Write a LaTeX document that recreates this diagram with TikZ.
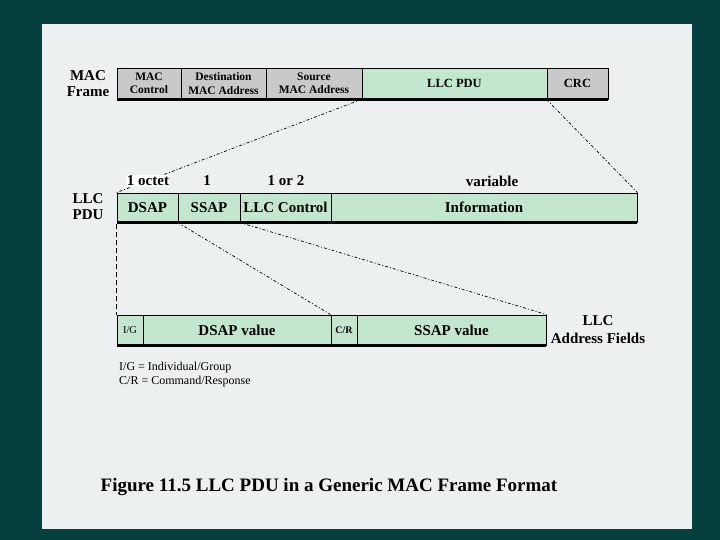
\documentclass[tikz,border=0pt]{standalone}
\usepackage{fontspec}
\setmainfont{Liberation Serif}
\definecolor{bgteal}{HTML}{053F3F}
\definecolor{panel}{HTML}{ECF0F1}
\definecolor{mint}{HTML}{C2E6CE}
\definecolor{cellgray}{HTML}{C9C9C9}
\begin{document}
\begin{tikzpicture}[x=1pt,y=-1pt,
  cell/.style={draw=black, line width=0.9pt, inner sep=0pt, align=center, font=\bfseries},
  green/.style={cell, fill=mint},
  gray/.style={cell, fill=cellgray},
  shadowline/.style={line width=2.6pt},
  dashdot/.style={line width=0.7pt, dash pattern=on 3pt off 2pt on 1pt off 2pt},
  vdash/.style={line width=0.9pt, dash pattern=on 5pt off 3pt},
  lbl/.style={font=\bfseries, align=center, inner sep=1pt},
  macfont/.style={font=\bfseries\fontsize{11.5}{13.5}\selectfont},
  bigfont/.style={font=\bfseries\fontsize{15}{16}\selectfont},
]
\useasboundingbox (0,0) rectangle (720,540);
\fill[bgteal] (0,0) rectangle (720,540);
\fill[panel] (42,24) rectangle (692,529);

% MAC frame
\node[lbl, font=\bfseries\fontsize{15}{16}\selectfont] (maclbl) at (88,84) {MAC\\Frame};
\node[gray, minimum width=64pt, minimum height=31pt, macfont] (macctl) at (149,83.5) {MAC\\Control};
\node[gray, minimum width=85pt, minimum height=31pt, macfont] (dest) at (223.5,83.5) {Destination\\MAC Address};
\node[gray, minimum width=96pt, minimum height=31pt, macfont] (src) at (314,83.5) {Source\\MAC Address};
\node[green, minimum width=185pt, minimum height=31pt, font=\bfseries\fontsize{12.5}{14}\selectfont] (pdu) at (454.5,83.5) {LLC PDU};
\node[gray, minimum width=61pt, minimum height=31pt, font=\bfseries\fontsize{12.5}{14}\selectfont] (crc) at (577.5,83.5) {CRC};
\draw[shadowline] (macctl.south west) -- (crc.south east);
\draw[line width=1.6pt] (crc.north east) -- (crc.south east);

% LLC PDU row
\node[lbl, font=\bfseries\fontsize{15}{16}\selectfont] (pdulbl) at (88,207) {LLC\\PDU};
\node[green, minimum width=61pt, minimum height=29pt, bigfont] (dsap) at (147.5,207.5) {DSAP};
\node[green, minimum width=62pt, minimum height=29pt, bigfont] (ssap) at (209,207.5) {SSAP};
\node[green, minimum width=91pt, minimum height=29pt, bigfont] (llcctl) at (285.5,207.5) {LLC Control};
\node[green, minimum width=306pt, minimum height=29pt, bigfont] (info) at (484,207.5) {Information};
\draw[shadowline] (dsap.south west) -- (info.south east);
\draw[line width=1.6pt] (info.north east) -- (info.south east);

% Address fields row
\node[green, minimum width=26pt, minimum height=30pt, font=\fontsize{10.5}{11}\selectfont] (ig) at (130,330) {I/G};
\node[green, minimum width=188pt, minimum height=30pt, bigfont] (dsapv) at (237,330) {DSAP value};
\node[green, minimum width=26pt, minimum height=30pt, font=\bfseries\fontsize{10}{11}\selectfont] (cr) at (344,330) {C/R};
\node[green, minimum width=189pt, minimum height=30pt, bigfont] (ssapv) at (451.5,330) {SSAP value};
\draw[shadowline] (ig.south west) -- (ssapv.south east);
\draw[line width=1.6pt] (ssapv.north east) -- (ssapv.south east);
\node[lbl, font=\bfseries\fontsize{15}{18}\selectfont] (addrlbl) at (598,330) {LLC\\Address Fields};

% connectors
\draw[dashdot] (pdu.south west) -- (dsap.north west);
\draw[dashdot] (crc.south west) -- (info.north east);
\draw[dashdot] (ssap.south west) -- (cr.north west);
\draw[dashdot] (llcctl.south west) -- (ssapv.north east);
\draw[vdash] ([yshift=-1.5pt]dsap.south west) -- (ig.north west);

% size labels
\node[lbl, fill=white, bigfont] (oct1) at (148,181) {1 octet};
\node[lbl, bigfont] (oct2) at (207,181) {1};
\node[lbl, bigfont] (oct3) at (286,181) {1 or 2};
\node[lbl, bigfont] (oct4) at (492,181) {variable};

% legend
\node[anchor=west, inner sep=0pt, align=left, font=\fontsize{12}{14}\selectfont] (legend) at (119,375) {I/G = Individual/Group\\C/R = Command/Response};

% caption
\node[inner sep=0pt, font=\bfseries\fontsize{19}{21}\selectfont] (caption) at (329,487) {Figure 11.5 LLC PDU in a Generic MAC Frame Format};
\end{tikzpicture}
\end{document}
